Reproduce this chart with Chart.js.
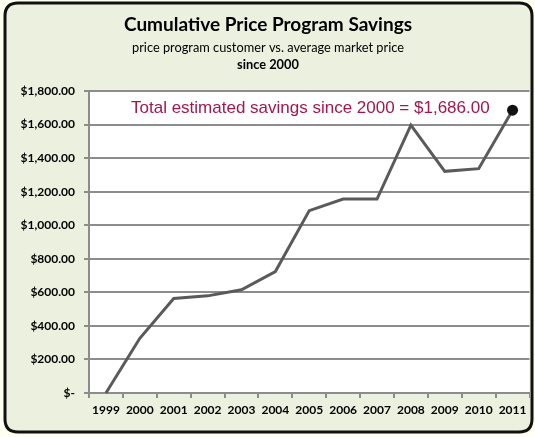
<!DOCTYPE html>
<html><head><meta charset="utf-8">
<script src="https://cdn.jsdelivr.net/npm/chart.js@4"></script>
<style>html,body{margin:0;padding:0;background:#fffff2;}canvas{display:block}</style>
</head><body>
<div style="width:535px;height:437px;position:relative"><canvas id="c" width="535" height="437"></canvas></div>
<script>
const years = ['1999','2000','2001','2002','2003','2004','2005','2006','2007','2008','2009','2010','2011'];
const savings = [0, 326, 563, 579, 615, 724, 1087, 1156, 1156, 1596, 1321, 1337, 1686];
const yTicks = [0,200,400,600,800,1000,1200,1400,1600,1800];
const titleText = 'Cumulative Price Program Savings';
const subtitleText = 'price program customer vs. average market price';
const subtitle2Text = 'since 2000';
const annotationText = 'Total estimated savings since 2000 = $1,686.00';

function fmt(v){
  if (v === 0) return '$-';
  return '$' + v.toLocaleString('en-US',{minimumFractionDigits:2,maximumFractionDigits:2});
}

const bgPlugin = {
  id:'bg',
  beforeDraw(chart){
    const ctx = chart.ctx;
    ctx.save();
    ctx.fillStyle = '#fffff2';
    ctx.fillRect(0,0,chart.width,chart.height);
    const x=5,y=3,w=527,h=429,r=13;
    ctx.beginPath();
    ctx.moveTo(x+r,y);ctx.lineTo(x+w-r,y);ctx.quadraticCurveTo(x+w,y,x+w,y+r);
    ctx.lineTo(x+w,y+h-r);ctx.quadraticCurveTo(x+w,y+h,x+w-r,y+h);
    ctx.lineTo(x+r,y+h);ctx.quadraticCurveTo(x,y+h,x,y+h-r);
    ctx.lineTo(x,y+r);ctx.quadraticCurveTo(x,y,x+r,y);ctx.closePath();
    ctx.fillStyle = '#ebf1de';
    ctx.fill();
    ctx.lineWidth = 3;
    ctx.strokeStyle = '#111';
    ctx.stroke();
    const a = chart.chartArea;
    ctx.fillStyle = '#ffffff';
    ctx.fillRect(a.left, a.top, a.right-a.left, a.bottom-a.top);
    ctx.restore();
  },
  afterDraw(chart){
    const ctx = chart.ctx;
    ctx.save();
    ctx.textAlign='center';
    ctx.textBaseline='middle';
    ctx.fillStyle='#000';
    ctx.font='bold 19px Lato';
    ctx.fillText(titleText, 268, 25);
    ctx.font='12.8px Lato';
    ctx.fillText(subtitleText, 268, 48);
    ctx.font='bold 12.8px Lato';
    ctx.fillText(subtitle2Text, 268, 65);
    const ys = chart.scales.y;
    ctx.font='17px "Liberation Sans"';
    ctx.textAlign='left';
    ctx.fillStyle='#a3174f';
    ctx.fillText(annotationText, chart.chartArea.left+42, ys.getPixelForValue(1700)+0.5);
    ctx.restore();
  }
};

new Chart(document.getElementById('c'), {
  type:'line',
  data:{
    labels: years,
    datasets:[{
      data: savings,
      borderColor:'#5a5a5a',
      borderWidth:3,
      tension:0,
      pointRadius: c => c.dataIndex === savings.length-1 ? 5.5 : 0,
      pointBackgroundColor:'#111',
      pointBorderColor:'#111',
      pointBorderWidth:0,
      clip:false
    }]
  },
  plugins:[bgPlugin],
  options:{
    responsive:false,
    animation:false,
    layout:{padding:{top:91,right:5,left:0,bottom:0}},
    plugins:{legend:{display:false},title:{display:false},tooltip:{enabled:false}},
    scales:{
      x:{
        offset:true,
        grid:{offset:true,drawOnChartArea:false,drawTicks:true,tickLength:5,color:'#8c8c8c',lineWidth:2},
        border:{color:'#8c8c8c',width:2},
        ticks:{font:{family:'Lato',weight:'bold',size:12},color:'#000',padding:5,maxRotation:0,autoSkip:false},
        afterFit(s){s.height=44;}
      },
      y:{
        min:0,max:1800,
        afterBuildTicks(s){s.ticks = yTicks.map(v=>({value:v}));},
        grid:{color:'#8c8c8c',lineWidth:2,tickLength:5},
        border:{color:'#8c8c8c',width:2},
        ticks:{font:{family:'Lato',weight:'bold',size:12},color:'#000',padding:9,callback:v=>fmt(v)},
        afterFit(s){s.width=89;}
      }
    }
  }
});
</script>
</body></html>
